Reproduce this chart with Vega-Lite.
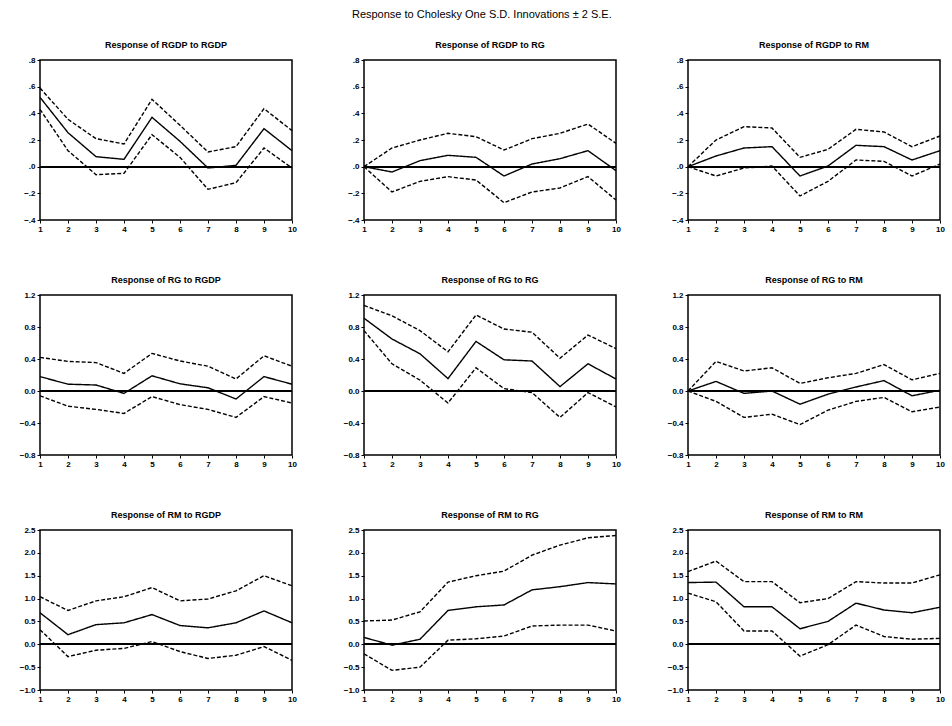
{
"$schema": "https://vega.github.io/schema/vega-lite/v6.json",
"background": "white",
"padding": {"left": 18, "top": 9, "right": 0, "bottom": 0},
"title": {"text": "Response to Cholesky One S.D. Innovations ± 2 S.E.", "fontSize": 11, "fontWeight": "normal", "font": "Liberation Sans", "anchor": "middle", "offset": 20},
"data": {"values": [
{"p":"RGDP-RGDP","h":1,"resp":0.52,"lo":0.43,"hi":0.59},
{"p":"RGDP-RGDP","h":2,"resp":0.255,"lo":0.12,"hi":0.355},
{"p":"RGDP-RGDP","h":3,"resp":0.075,"lo":-0.06,"hi":0.21},
{"p":"RGDP-RGDP","h":4,"resp":0.055,"lo":-0.05,"hi":0.17},
{"p":"RGDP-RGDP","h":5,"resp":0.37,"lo":0.24,"hi":0.505},
{"p":"RGDP-RGDP","h":6,"resp":0.19,"lo":0.07,"hi":0.31},
{"p":"RGDP-RGDP","h":7,"resp":-0.01,"lo":-0.17,"hi":0.11},
{"p":"RGDP-RGDP","h":8,"resp":0.01,"lo":-0.12,"hi":0.15},
{"p":"RGDP-RGDP","h":9,"resp":0.285,"lo":0.14,"hi":0.435},
{"p":"RGDP-RGDP","h":10,"resp":0.12,"lo":-0.01,"hi":0.27},
{"p":"RGDP-RG","h":1,"resp":0,"lo":0,"hi":0},
{"p":"RGDP-RG","h":2,"resp":-0.04,"lo":-0.19,"hi":0.14},
{"p":"RGDP-RG","h":3,"resp":0.045,"lo":-0.11,"hi":0.2},
{"p":"RGDP-RG","h":4,"resp":0.085,"lo":-0.075,"hi":0.25},
{"p":"RGDP-RG","h":5,"resp":0.07,"lo":-0.1,"hi":0.225},
{"p":"RGDP-RG","h":6,"resp":-0.07,"lo":-0.27,"hi":0.125},
{"p":"RGDP-RG","h":7,"resp":0.02,"lo":-0.19,"hi":0.21},
{"p":"RGDP-RG","h":8,"resp":0.06,"lo":-0.16,"hi":0.25},
{"p":"RGDP-RG","h":9,"resp":0.12,"lo":-0.075,"hi":0.32},
{"p":"RGDP-RG","h":10,"resp":-0.03,"lo":-0.25,"hi":0.175},
{"p":"RGDP-RM","h":1,"resp":0,"lo":0,"hi":0},
{"p":"RGDP-RM","h":2,"resp":0.08,"lo":-0.07,"hi":0.2},
{"p":"RGDP-RM","h":3,"resp":0.14,"lo":-0.01,"hi":0.3},
{"p":"RGDP-RM","h":4,"resp":0.15,"lo":0.005,"hi":0.29},
{"p":"RGDP-RM","h":5,"resp":-0.07,"lo":-0.22,"hi":0.07},
{"p":"RGDP-RM","h":6,"resp":0.005,"lo":-0.11,"hi":0.13},
{"p":"RGDP-RM","h":7,"resp":0.16,"lo":0.05,"hi":0.28},
{"p":"RGDP-RM","h":8,"resp":0.15,"lo":0.04,"hi":0.26},
{"p":"RGDP-RM","h":9,"resp":0.05,"lo":-0.07,"hi":0.15},
{"p":"RGDP-RM","h":10,"resp":0.12,"lo":0.02,"hi":0.23},
{"p":"RG-RGDP","h":1,"resp":0.18,"lo":-0.06,"hi":0.42},
{"p":"RG-RGDP","h":2,"resp":0.085,"lo":-0.19,"hi":0.37},
{"p":"RG-RGDP","h":3,"resp":0.075,"lo":-0.23,"hi":0.355},
{"p":"RG-RGDP","h":4,"resp":-0.03,"lo":-0.28,"hi":0.22},
{"p":"RG-RGDP","h":5,"resp":0.19,"lo":-0.07,"hi":0.47},
{"p":"RG-RGDP","h":6,"resp":0.09,"lo":-0.17,"hi":0.375},
{"p":"RG-RGDP","h":7,"resp":0.04,"lo":-0.23,"hi":0.31},
{"p":"RG-RGDP","h":8,"resp":-0.1,"lo":-0.33,"hi":0.15},
{"p":"RG-RGDP","h":9,"resp":0.18,"lo":-0.07,"hi":0.44},
{"p":"RG-RGDP","h":10,"resp":0.085,"lo":-0.15,"hi":0.31},
{"p":"RG-RG","h":1,"resp":0.91,"lo":0.755,"hi":1.07},
{"p":"RG-RG","h":2,"resp":0.65,"lo":0.34,"hi":0.94},
{"p":"RG-RG","h":3,"resp":0.465,"lo":0.135,"hi":0.755},
{"p":"RG-RG","h":4,"resp":0.155,"lo":-0.15,"hi":0.49},
{"p":"RG-RG","h":5,"resp":0.62,"lo":0.29,"hi":0.95},
{"p":"RG-RG","h":6,"resp":0.39,"lo":0.03,"hi":0.775},
{"p":"RG-RG","h":7,"resp":0.375,"lo":-0.02,"hi":0.735},
{"p":"RG-RG","h":8,"resp":0.055,"lo":-0.33,"hi":0.41},
{"p":"RG-RG","h":9,"resp":0.34,"lo":-0.02,"hi":0.7},
{"p":"RG-RG","h":10,"resp":0.15,"lo":-0.2,"hi":0.53},
{"p":"RG-RM","h":1,"resp":0,"lo":0,"hi":0},
{"p":"RG-RM","h":2,"resp":0.12,"lo":-0.13,"hi":0.37},
{"p":"RG-RM","h":3,"resp":-0.03,"lo":-0.33,"hi":0.25},
{"p":"RG-RM","h":4,"resp":0.0,"lo":-0.29,"hi":0.29},
{"p":"RG-RM","h":5,"resp":-0.165,"lo":-0.42,"hi":0.095},
{"p":"RG-RM","h":6,"resp":-0.04,"lo":-0.24,"hi":0.165},
{"p":"RG-RM","h":7,"resp":0.05,"lo":-0.13,"hi":0.22},
{"p":"RG-RM","h":8,"resp":0.13,"lo":-0.08,"hi":0.33},
{"p":"RG-RM","h":9,"resp":-0.06,"lo":-0.26,"hi":0.14},
{"p":"RG-RM","h":10,"resp":0.01,"lo":-0.2,"hi":0.22},
{"p":"RM-RGDP","h":1,"resp":0.69,"lo":0.32,"hi":1.04},
{"p":"RM-RGDP","h":2,"resp":0.21,"lo":-0.27,"hi":0.74},
{"p":"RM-RGDP","h":3,"resp":0.43,"lo":-0.13,"hi":0.95},
{"p":"RM-RGDP","h":4,"resp":0.47,"lo":-0.09,"hi":1.04},
{"p":"RM-RGDP","h":5,"resp":0.65,"lo":0.06,"hi":1.24},
{"p":"RM-RGDP","h":6,"resp":0.41,"lo":-0.16,"hi":0.95},
{"p":"RM-RGDP","h":7,"resp":0.36,"lo":-0.31,"hi":0.99},
{"p":"RM-RGDP","h":8,"resp":0.47,"lo":-0.24,"hi":1.17},
{"p":"RM-RGDP","h":9,"resp":0.73,"lo":-0.05,"hi":1.5},
{"p":"RM-RGDP","h":10,"resp":0.47,"lo":-0.35,"hi":1.28},
{"p":"RM-RG","h":1,"resp":0.15,"lo":-0.21,"hi":0.51},
{"p":"RM-RG","h":2,"resp":-0.02,"lo":-0.57,"hi":0.53},
{"p":"RM-RG","h":3,"resp":0.11,"lo":-0.5,"hi":0.71},
{"p":"RM-RG","h":4,"resp":0.74,"lo":0.09,"hi":1.36},
{"p":"RM-RG","h":5,"resp":0.82,"lo":0.12,"hi":1.5},
{"p":"RM-RG","h":6,"resp":0.86,"lo":0.18,"hi":1.6},
{"p":"RM-RG","h":7,"resp":1.19,"lo":0.4,"hi":1.95},
{"p":"RM-RG","h":8,"resp":1.26,"lo":0.42,"hi":2.17},
{"p":"RM-RG","h":9,"resp":1.35,"lo":0.42,"hi":2.33},
{"p":"RM-RG","h":10,"resp":1.32,"lo":0.29,"hi":2.38},
{"p":"RM-RM","h":1,"resp":1.35,"lo":1.12,"hi":1.59},
{"p":"RM-RM","h":2,"resp":1.36,"lo":0.93,"hi":1.82},
{"p":"RM-RM","h":3,"resp":0.82,"lo":0.29,"hi":1.37},
{"p":"RM-RM","h":4,"resp":0.82,"lo":0.29,"hi":1.37},
{"p":"RM-RM","h":5,"resp":0.34,"lo":-0.26,"hi":0.91},
{"p":"RM-RM","h":6,"resp":0.5,"lo":-0.01,"hi":1.0},
{"p":"RM-RM","h":7,"resp":0.9,"lo":0.42,"hi":1.37},
{"p":"RM-RM","h":8,"resp":0.75,"lo":0.17,"hi":1.34},
{"p":"RM-RM","h":9,"resp":0.69,"lo":0.11,"hi":1.34},
{"p":"RM-RM","h":10,"resp":0.81,"lo":0.13,"hi":1.52}
]},
"columns": 3,
"spacing": {"row": 41, "column": 44},
"concat": [
{"title": "Response of RGDP to RGDP", "width": 252, "height": 160,
 "transform": [{"filter": "datum.p == 'RGDP-RGDP'"}, {"fold": ["lo","resp","hi"], "as": ["band","v"]}],
 "layer": [
  {"mark": {"type": "line", "color": "black", "strokeWidth": 1.4},
   "encoding": {
    "x": {"field": "h", "type": "quantitative", "scale": {"domain": [1, 10]}, "axis": {"values": [1,2,3,4,5,6,7,8,9,10], "tickCount": 20, "format": "d", "title": null, "labelFlush": false, "labelOverlap": false}},
    "y": {"field": "v", "type": "quantitative", "scale": {"domain": [-0.4, 0.8], "nice": false, "zero": false}, "axis": {"values": [-0.4,-0.2,0,0.2,0.4,0.6,0.8], "tickCount": 20, "labelExpr": "replace(format(datum.value,'.1f'),'0.','.')", "title": null, "labelOverlap": false}},
    "detail": {"field": "band"},
    "strokeDash": {"field": "band", "type": "nominal", "scale": {"domain": ["resp","lo","hi"], "range": [[1,0],[4,2],[4,2]]}, "legend": null}}},
  {"mark": {"type": "rule", "color": "black", "strokeWidth": 1.2}, "encoding": {"y": {"datum": 0, "type": "quantitative"}}}
 ]},
{"title": "Response of RGDP to RG", "width": 252, "height": 160,
 "transform": [{"filter": "datum.p == 'RGDP-RG'"}, {"fold": ["lo","resp","hi"], "as": ["band","v"]}],
 "layer": [
  {"mark": {"type": "line", "color": "black", "strokeWidth": 1.4},
   "encoding": {
    "x": {"field": "h", "type": "quantitative", "scale": {"domain": [1, 10]}, "axis": {"values": [1,2,3,4,5,6,7,8,9,10], "tickCount": 20, "format": "d", "title": null, "labelFlush": false, "labelOverlap": false}},
    "y": {"field": "v", "type": "quantitative", "scale": {"domain": [-0.4, 0.8], "nice": false, "zero": false}, "axis": {"values": [-0.4,-0.2,0,0.2,0.4,0.6,0.8], "tickCount": 20, "labelExpr": "replace(format(datum.value,'.1f'),'0.','.')", "title": null, "labelOverlap": false}},
    "detail": {"field": "band"},
    "strokeDash": {"field": "band", "type": "nominal", "scale": {"domain": ["resp","lo","hi"], "range": [[1,0],[4,2],[4,2]]}, "legend": null}}},
  {"mark": {"type": "rule", "color": "black", "strokeWidth": 1.2}, "encoding": {"y": {"datum": 0, "type": "quantitative"}}}
 ]},
{"title": "Response of RGDP to RM", "width": 252, "height": 160,
 "transform": [{"filter": "datum.p == 'RGDP-RM'"}, {"fold": ["lo","resp","hi"], "as": ["band","v"]}],
 "layer": [
  {"mark": {"type": "line", "color": "black", "strokeWidth": 1.4},
   "encoding": {
    "x": {"field": "h", "type": "quantitative", "scale": {"domain": [1, 10]}, "axis": {"values": [1,2,3,4,5,6,7,8,9,10], "tickCount": 20, "format": "d", "title": null, "labelFlush": false, "labelOverlap": false}},
    "y": {"field": "v", "type": "quantitative", "scale": {"domain": [-0.4, 0.8], "nice": false, "zero": false}, "axis": {"values": [-0.4,-0.2,0,0.2,0.4,0.6,0.8], "tickCount": 20, "labelExpr": "replace(format(datum.value,'.1f'),'0.','.')", "title": null, "labelOverlap": false}},
    "detail": {"field": "band"},
    "strokeDash": {"field": "band", "type": "nominal", "scale": {"domain": ["resp","lo","hi"], "range": [[1,0],[4,2],[4,2]]}, "legend": null}}},
  {"mark": {"type": "rule", "color": "black", "strokeWidth": 1.2}, "encoding": {"y": {"datum": 0, "type": "quantitative"}}}
 ]},
{"title": "Response of RG to RGDP", "width": 252, "height": 160,
 "transform": [{"filter": "datum.p == 'RG-RGDP'"}, {"fold": ["lo","resp","hi"], "as": ["band","v"]}],
 "layer": [
  {"mark": {"type": "line", "color": "black", "strokeWidth": 1.4},
   "encoding": {
    "x": {"field": "h", "type": "quantitative", "scale": {"domain": [1, 10]}, "axis": {"values": [1,2,3,4,5,6,7,8,9,10], "tickCount": 20, "format": "d", "title": null, "labelFlush": false, "labelOverlap": false}},
    "y": {"field": "v", "type": "quantitative", "scale": {"domain": [-0.8, 1.2], "nice": false, "zero": false}, "axis": {"values": [-0.8,-0.4,0,0.4,0.8,1.2], "tickCount": 20, "format": ".1f", "title": null, "labelOverlap": false}},
    "detail": {"field": "band"},
    "strokeDash": {"field": "band", "type": "nominal", "scale": {"domain": ["resp","lo","hi"], "range": [[1,0],[4,2],[4,2]]}, "legend": null}}},
  {"mark": {"type": "rule", "color": "black", "strokeWidth": 1.2}, "encoding": {"y": {"datum": 0, "type": "quantitative"}}}
 ]},
{"title": "Response of RG to RG", "width": 252, "height": 160,
 "transform": [{"filter": "datum.p == 'RG-RG'"}, {"fold": ["lo","resp","hi"], "as": ["band","v"]}],
 "layer": [
  {"mark": {"type": "line", "color": "black", "strokeWidth": 1.4},
   "encoding": {
    "x": {"field": "h", "type": "quantitative", "scale": {"domain": [1, 10]}, "axis": {"values": [1,2,3,4,5,6,7,8,9,10], "tickCount": 20, "format": "d", "title": null, "labelFlush": false, "labelOverlap": false}},
    "y": {"field": "v", "type": "quantitative", "scale": {"domain": [-0.8, 1.2], "nice": false, "zero": false}, "axis": {"values": [-0.8,-0.4,0,0.4,0.8,1.2], "tickCount": 20, "format": ".1f", "title": null, "labelOverlap": false}},
    "detail": {"field": "band"},
    "strokeDash": {"field": "band", "type": "nominal", "scale": {"domain": ["resp","lo","hi"], "range": [[1,0],[4,2],[4,2]]}, "legend": null}}},
  {"mark": {"type": "rule", "color": "black", "strokeWidth": 1.2}, "encoding": {"y": {"datum": 0, "type": "quantitative"}}}
 ]},
{"title": "Response of RG to RM", "width": 252, "height": 160,
 "transform": [{"filter": "datum.p == 'RG-RM'"}, {"fold": ["lo","resp","hi"], "as": ["band","v"]}],
 "layer": [
  {"mark": {"type": "line", "color": "black", "strokeWidth": 1.4},
   "encoding": {
    "x": {"field": "h", "type": "quantitative", "scale": {"domain": [1, 10]}, "axis": {"values": [1,2,3,4,5,6,7,8,9,10], "tickCount": 20, "format": "d", "title": null, "labelFlush": false, "labelOverlap": false}},
    "y": {"field": "v", "type": "quantitative", "scale": {"domain": [-0.8, 1.2], "nice": false, "zero": false}, "axis": {"values": [-0.8,-0.4,0,0.4,0.8,1.2], "tickCount": 20, "format": ".1f", "title": null, "labelOverlap": false}},
    "detail": {"field": "band"},
    "strokeDash": {"field": "band", "type": "nominal", "scale": {"domain": ["resp","lo","hi"], "range": [[1,0],[4,2],[4,2]]}, "legend": null}}},
  {"mark": {"type": "rule", "color": "black", "strokeWidth": 1.2}, "encoding": {"y": {"datum": 0, "type": "quantitative"}}}
 ]},
{"title": "Response of RM to RGDP", "width": 252, "height": 160,
 "transform": [{"filter": "datum.p == 'RM-RGDP'"}, {"fold": ["lo","resp","hi"], "as": ["band","v"]}],
 "layer": [
  {"mark": {"type": "line", "color": "black", "strokeWidth": 1.4},
   "encoding": {
    "x": {"field": "h", "type": "quantitative", "scale": {"domain": [1, 10]}, "axis": {"values": [1,2,3,4,5,6,7,8,9,10], "tickCount": 20, "format": "d", "title": null, "labelFlush": false, "labelOverlap": false}},
    "y": {"field": "v", "type": "quantitative", "scale": {"domain": [-1.0, 2.5], "nice": false, "zero": false}, "axis": {"values": [-1,-0.5,0,0.5,1,1.5,2,2.5], "tickCount": 20, "format": ".1f", "title": null, "labelOverlap": false}},
    "detail": {"field": "band"},
    "strokeDash": {"field": "band", "type": "nominal", "scale": {"domain": ["resp","lo","hi"], "range": [[1,0],[4,2],[4,2]]}, "legend": null}}},
  {"mark": {"type": "rule", "color": "black", "strokeWidth": 1.2}, "encoding": {"y": {"datum": 0, "type": "quantitative"}}}
 ]},
{"title": "Response of RM to RG", "width": 252, "height": 160,
 "transform": [{"filter": "datum.p == 'RM-RG'"}, {"fold": ["lo","resp","hi"], "as": ["band","v"]}],
 "layer": [
  {"mark": {"type": "line", "color": "black", "strokeWidth": 1.4},
   "encoding": {
    "x": {"field": "h", "type": "quantitative", "scale": {"domain": [1, 10]}, "axis": {"values": [1,2,3,4,5,6,7,8,9,10], "tickCount": 20, "format": "d", "title": null, "labelFlush": false, "labelOverlap": false}},
    "y": {"field": "v", "type": "quantitative", "scale": {"domain": [-1.0, 2.5], "nice": false, "zero": false}, "axis": {"values": [-1,-0.5,0,0.5,1,1.5,2,2.5], "tickCount": 20, "format": ".1f", "title": null, "labelOverlap": false}},
    "detail": {"field": "band"},
    "strokeDash": {"field": "band", "type": "nominal", "scale": {"domain": ["resp","lo","hi"], "range": [[1,0],[4,2],[4,2]]}, "legend": null}}},
  {"mark": {"type": "rule", "color": "black", "strokeWidth": 1.2}, "encoding": {"y": {"datum": 0, "type": "quantitative"}}}
 ]},
{"title": "Response of RM to RM", "width": 252, "height": 160,
 "transform": [{"filter": "datum.p == 'RM-RM'"}, {"fold": ["lo","resp","hi"], "as": ["band","v"]}],
 "layer": [
  {"mark": {"type": "line", "color": "black", "strokeWidth": 1.4},
   "encoding": {
    "x": {"field": "h", "type": "quantitative", "scale": {"domain": [1, 10]}, "axis": {"values": [1,2,3,4,5,6,7,8,9,10], "tickCount": 20, "format": "d", "title": null, "labelFlush": false, "labelOverlap": false}},
    "y": {"field": "v", "type": "quantitative", "scale": {"domain": [-1.0, 2.5], "nice": false, "zero": false}, "axis": {"values": [-1,-0.5,0,0.5,1,1.5,2,2.5], "tickCount": 20, "format": ".1f", "title": null, "labelOverlap": false}},
    "detail": {"field": "band"},
    "strokeDash": {"field": "band", "type": "nominal", "scale": {"domain": ["resp","lo","hi"], "range": [[1,0],[4,2],[4,2]]}, "legend": null}}},
  {"mark": {"type": "rule", "color": "black", "strokeWidth": 1.2}, "encoding": {"y": {"datum": 0, "type": "quantitative"}}}
 ]}
],
"config": {
 "view": {"stroke": "black", "strokeWidth": 1.5},
 "axis": {"grid": false, "domain": false, "ticks": true, "tickColor": "black", "tickSize": 3, "labelFont": "Liberation Sans", "labelFontSize": 8, "labelFontWeight": "bold", "labelColor": "black", "labelPadding": 2, "labelOverlap": false},
 "title": {"font": "Liberation Sans", "fontSize": 9, "fontWeight": "bold", "color": "black", "offset": 6}
}
}
